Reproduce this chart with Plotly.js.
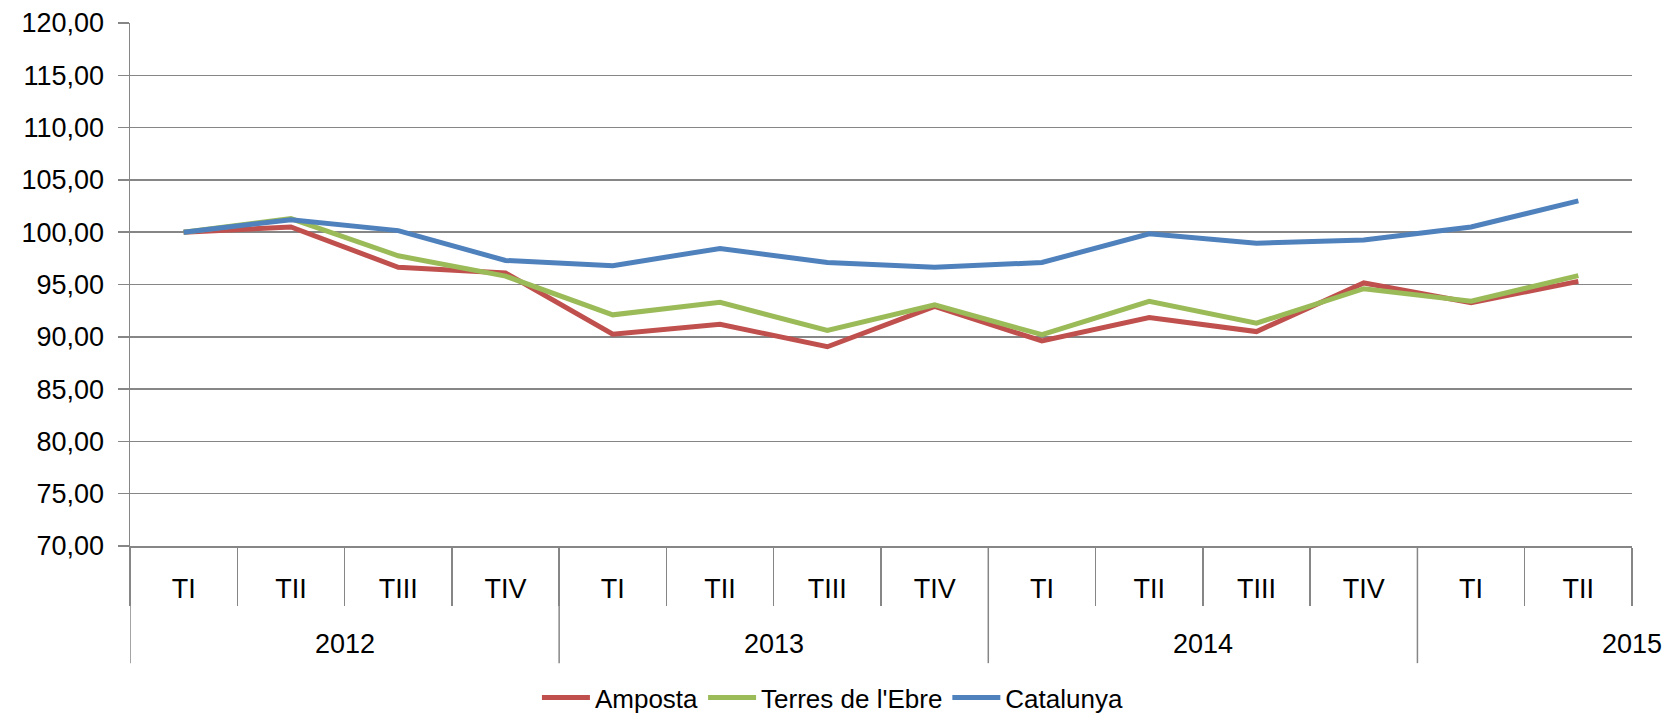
<!DOCTYPE html>
<html>
<head>
<meta charset="utf-8">
<script src="https://cdn.plot.ly/plotly-3.0.1.min.js"></script>
<style>html,body{margin:0;padding:0;background:#fff;}#chart{width:1666px;height:716px;}</style>
</head>
<body>
<div id="chart"></div>
<script>
const years = ['2012', '2013', '2014', '2015'];
const quarters = ['TI', 'TII', 'TIII', 'TIV', 'TI', 'TII', 'TIII', 'TIV', 'TI', 'TII', 'TIII', 'TIV', 'TI', 'TII'];
const amposta = [100.0, 100.5, 96.65, 96.1, 90.25, 91.2, 89.05, 92.9, 89.6, 91.85, 90.5, 95.15, 93.25, 95.3];
const terresEbre = [100.0, 101.3, 97.75, 95.8, 92.1, 93.3, 90.6, 93.05, 90.2, 93.4, 91.3, 94.6, 93.4, 95.85];
const catalunya = [100.0, 101.2, 100.15, 97.3, 96.8, 98.45, 97.1, 96.65, 97.1, 99.85, 98.95, 99.25, 100.5, 103.0];
const seriesNames = ['Amposta', "Terres de l'Ebre", 'Catalunya'];
const quartersPerYear = 4;

const FONT = '"Liberation Sans", Arial, sans-serif';
const GRID = '#868686';
const xIdx = quarters.map((_, i) => i);

const traces = [
  {x: xIdx, y: amposta, name: seriesNames[0], mode: 'lines', line: {color: '#C0504D', width: 5}},
  {x: xIdx, y: terresEbre, name: seriesNames[1], mode: 'lines', line: {color: '#9BBB59', width: 5}},
  {x: xIdx, y: catalunya, name: seriesNames[2], mode: 'lines', line: {color: '#4F81BD', width: 5}}
];

const shapes = [];
const annotations = [];
years.forEach((yr, i) => {
  const start = i * quartersPerYear - 0.5;
  if (start < quarters.length - 0.5) {
    shapes.push({type: 'line', xref: 'x', yref: 'paper', x0: start, x1: start, y0: 0, y1: -0.224,
      line: {color: GRID, width: 1.5}});
  }
  annotations.push({text: yr, xref: 'x', yref: 'paper', x: start + quartersPerYear / 2, y: -0.187,
    xanchor: 'center', yanchor: 'middle', showarrow: false, font: {family: FONT, size: 27, color: '#000'}});
});

const layout = {
  width: 1666, height: 716,
  margin: {l: 130, r: 34, t: 23, b: 170, autoexpand: false},
  paper_bgcolor: '#fff', plot_bgcolor: '#fff',
  separators: ',.',
  font: {family: FONT, size: 27, color: '#000'},
  showlegend: true,
  legend: {orientation: 'h', x: 0.468, xanchor: 'center', y: -0.29, yanchor: 'middle',
    bgcolor: 'rgba(0,0,0,0)',
    font: {family: FONT, size: 26, color: '#000'}, itemwidth: 48, tracegroupgap: 0},
  xaxis: {
    range: [-0.5, quarters.length - 0.5],
    tickmode: 'array', tickvals: xIdx, ticktext: quarters,
    ticks: '', showgrid: false, zeroline: false,
    showline: true, linecolor: GRID, linewidth: 1.5,
    ticklabelstandoff: 18,
    tickfont: {family: FONT, size: 27, color: '#000'},
    minor: {ticks: 'outside', ticklen: 58, tick0: -0.5, dtick: 1, tickcolor: GRID, tickwidth: 1.5, showgrid: false}
  },
  yaxis: {
    range: [70, 120], dtick: 5, tick0: 70, tickformat: '.2f',
    ticks: 'outside', ticklen: 11, tickcolor: GRID, tickwidth: 1.5,
    showline: true, linecolor: GRID, linewidth: 1.5,
    showgrid: true, gridcolor: GRID, gridwidth: 1.5, zeroline: false,
    ticklabelstandoff: 8,
    tickfont: {family: FONT, size: 27, color: '#000'}
  },
  shapes: shapes,
  annotations: annotations
};

Plotly.newPlot('chart', traces, layout, {staticPlot: true, displayModeBar: false});
</script>
</body>
</html>
